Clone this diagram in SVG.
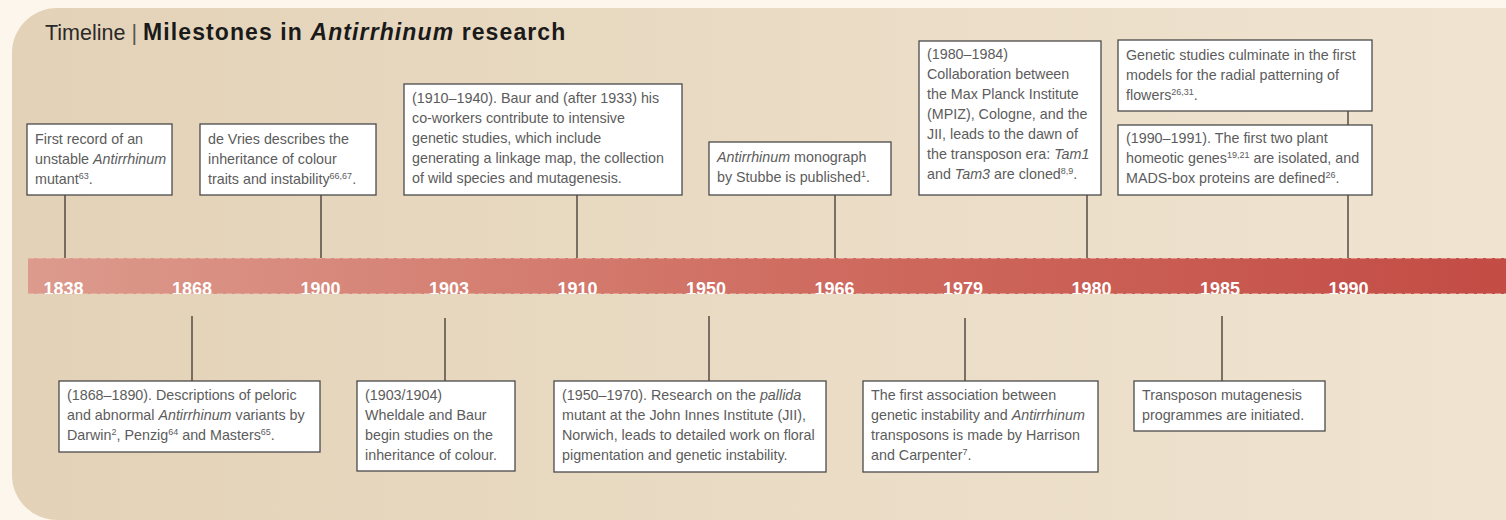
<svg xmlns="http://www.w3.org/2000/svg" width="1506" height="520" viewBox="0 0 1506 520">
<defs>
<linearGradient id="panel" x1="0" y1="0" x2="1" y2="0">
<stop offset="0" stop-color="#e3d2b7"/>
<stop offset="1" stop-color="#f0e4d1"/>
</linearGradient>
<linearGradient id="bar" x1="0" y1="0" x2="1" y2="0">
<stop offset="0" stop-color="#dc9b8d"/>
<stop offset="0.5" stop-color="#d06e62"/>
<stop offset="1" stop-color="#c34c45"/>
</linearGradient>
<clipPath id="barclip"><rect x="28" y="258" width="1478" height="36"/></clipPath>
</defs>
<style>
.box{fill:#fff;stroke:#4a4a4a;stroke-width:1.3}
.t{font-family:"Liberation Sans",Arial,sans-serif;font-size:14.3px;fill:#5c5c5c}
.i{font-style:italic}
.sup{font-size:9px}
.yr{font-family:"Liberation Sans",Arial,sans-serif;font-size:18px;font-weight:bold;fill:#fff;text-anchor:middle}
.ln{stroke:#3d3530;stroke-width:1.3;fill:none}
</style>
<rect x="0" y="0" width="1506" height="520" fill="#fdf6ec"/>
<path d="M1506 8 L57 8 A45 45 0 0 0 12 53 L12 475 A45 45 0 0 0 57 520 L1506 520 Z" fill="url(#panel)"/>
<text x="45" y="40" font-family="Liberation Sans,Arial,sans-serif" font-size="21.5" fill="#2a2a2a">Timeline <tspan fill="#555">|</tspan> <tspan font-weight="bold" font-size="23" letter-spacing="1.1" fill="#1a1a1a">Milestones in <tspan font-style="italic">Antirrhinum</tspan> research</tspan></text>
<g id="timeline">
<rect x="28" y="258" width="1478" height="36" fill="url(#bar)"/>
<line x1="28" y1="258.5" x2="1506" y2="258.5" stroke="#eebcae" stroke-width="1" stroke-dasharray="6 3" opacity="0.6"/>
<line x1="28" y1="293.5" x2="1506" y2="293.5" stroke="#eebcae" stroke-width="1" stroke-dasharray="6 3" opacity="0.6"/>
<g clip-path="url(#barclip)">
<text class="yr" x="63.5" y="295">1838</text>
<text class="yr" x="192" y="295">1868</text>
<text class="yr" x="320.5" y="295">1900</text>
<text class="yr" x="449" y="295">1903</text>
<text class="yr" x="577.5" y="295">1910</text>
<text class="yr" x="706" y="295">1950</text>
<text class="yr" x="834.5" y="295">1966</text>
<text class="yr" x="963" y="295">1979</text>
<text class="yr" x="1091.5" y="295">1980</text>
<text class="yr" x="1220" y="295">1985</text>
<text class="yr" x="1348.5" y="295">1990</text>
</g>
</g>
<g id="connectors">
<line class="ln" x1="65" y1="195" x2="65" y2="258"/>
<line class="ln" x1="321" y1="195" x2="321" y2="258"/>
<line class="ln" x1="577" y1="195" x2="577" y2="258"/>
<line class="ln" x1="835" y1="195" x2="835" y2="258"/>
<line class="ln" x1="1087" y1="195" x2="1087" y2="258"/>
<line class="ln" x1="1348" y1="111" x2="1348" y2="125"/>
<line class="ln" x1="1348" y1="195" x2="1348" y2="258"/>
<line class="ln" x1="192" y1="316" x2="192" y2="381"/>
<line class="ln" x1="445" y1="318" x2="445" y2="381"/>
<line class="ln" x1="709" y1="316" x2="709" y2="381"/>
<line class="ln" x1="965" y1="318" x2="965" y2="381"/>
<line class="ln" x1="1222" y1="316" x2="1222" y2="381"/>
</g>
<g id="n1838">
<rect class="box" x="27" y="124" width="145" height="71"/>
<text class="t" x="35" y="144">First record of an</text>
<text class="t" x="35" y="164">unstable <tspan class="i">Antirrhinum</tspan></text>
<text class="t" x="35" y="184">mutant<tspan class="sup" dy="-5">63</tspan><tspan dy="5">.</tspan></text>
</g>
<g id="n1900">
<rect class="box" x="200" y="124" width="176" height="71"/>
<text class="t" x="208" y="144">de Vries describes the</text>
<text class="t" x="208" y="164">inheritance of colour</text>
<text class="t" x="208" y="184">traits and instability<tspan class="sup" dy="-5">66,67</tspan><tspan dy="5">.</tspan></text>
</g>
<g id="n1910">
<rect class="box" x="404" y="84" width="278" height="111"/>
<text class="t" x="412" y="103">(1910–1940). Baur and (after 1933) his</text>
<text class="t" x="412" y="123">co-workers contribute to intensive</text>
<text class="t" x="412" y="143">genetic studies, which include</text>
<text class="t" x="412" y="163">generating a linkage map, the collection</text>
<text class="t" x="412" y="183">of wild species and mutagenesis.</text>
</g>
<g id="n1966">
<rect class="box" x="709" y="142" width="182" height="53"/>
<text class="t" x="717" y="162"><tspan class="i">Antirrhinum</tspan> monograph</text>
<text class="t" x="717" y="182">by Stubbe is published<tspan class="sup" dy="-5">1</tspan><tspan dy="5">.</tspan></text>
</g>
<g id="n1980">
<rect class="box" x="919" y="41" width="182" height="154"/>
<text class="t" x="927" y="59">(1980–1984)</text>
<text class="t" x="927" y="79">Collaboration between</text>
<text class="t" x="927" y="99">the Max Planck Institute</text>
<text class="t" x="927" y="119">(MPIZ), Cologne, and the</text>
<text class="t" x="927" y="139">JII, leads to the dawn of</text>
<text class="t" x="927" y="159">the transposon era: <tspan class="i">Tam1</tspan></text>
<text class="t" x="927" y="179">and <tspan class="i">Tam3</tspan> are cloned<tspan class="sup" dy="-5">8,9</tspan><tspan dy="5">.</tspan></text>
</g>
<g id="n1990a">
<rect class="box" x="1118" y="40" width="254" height="71"/>
<text class="t" x="1126" y="60">Genetic studies culminate in the first</text>
<text class="t" x="1126" y="80">models for the radial patterning of</text>
<text class="t" x="1126" y="100">flowers<tspan class="sup" dy="-5">26,31</tspan><tspan dy="5">.</tspan></text>
</g>
<g id="n1990b">
<rect class="box" x="1118" y="125" width="254" height="70"/>
<text class="t" x="1126" y="143">(1990–1991). The first two plant</text>
<text class="t" x="1126" y="163">homeotic genes<tspan class="sup" dy="-5">19,21</tspan><tspan dy="5"> are isolated, and</tspan></text>
<text class="t" x="1126" y="183">MADS-box proteins are defined<tspan class="sup" dy="-5">26</tspan><tspan dy="5">.</tspan></text>
</g>
<g id="n1868">
<rect class="box" x="59" y="381" width="261" height="71"/>
<text class="t" x="67" y="400">(1868–1890). Descriptions of peloric</text>
<text class="t" x="67" y="420">and abnormal <tspan class="i">Antirrhinum</tspan> variants by</text>
<text class="t" x="67" y="440">Darwin<tspan class="sup" dy="-5">2</tspan><tspan dy="5">, Penzig</tspan><tspan class="sup" dy="-5">64</tspan><tspan dy="5"> and Masters</tspan><tspan class="sup" dy="-5">65</tspan><tspan dy="5">.</tspan></text>
</g>
<g id="n1903">
<rect class="box" x="357" y="381" width="158" height="90"/>
<text class="t" x="365" y="400">(1903/1904)</text>
<text class="t" x="365" y="420">Wheldale and Baur</text>
<text class="t" x="365" y="440">begin studies on the</text>
<text class="t" x="365" y="460">inheritance of colour.</text>
</g>
<g id="n1950">
<rect class="box" x="554" y="381" width="272" height="91"/>
<text class="t" x="562" y="400">(1950–1970). Research on the <tspan class="i">pallida</tspan></text>
<text class="t" x="562" y="420">mutant at the John Innes Institute (JII),</text>
<text class="t" x="562" y="440">Norwich, leads to detailed work on floral</text>
<text class="t" x="562" y="460">pigmentation and genetic instability.</text>
</g>
<g id="n1979">
<rect class="box" x="863" y="381" width="235" height="91"/>
<text class="t" x="871" y="400">The first association between</text>
<text class="t" x="871" y="420">genetic instability and <tspan class="i">Antirrhinum</tspan></text>
<text class="t" x="871" y="440">transposons is made by Harrison</text>
<text class="t" x="871" y="460">and Carpenter<tspan class="sup" dy="-5">7</tspan><tspan dy="5">.</tspan></text>
</g>
<g id="n1985">
<rect class="box" x="1134" y="381" width="191" height="50"/>
<text class="t" x="1142" y="400">Transposon mutagenesis</text>
<text class="t" x="1142" y="420">programmes are initiated.</text>
</g>
</svg>
